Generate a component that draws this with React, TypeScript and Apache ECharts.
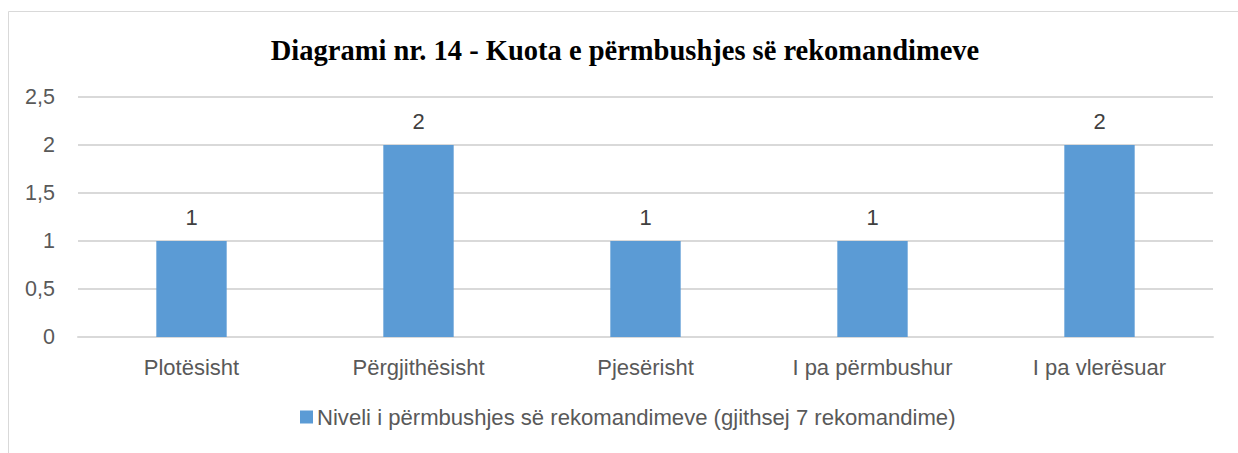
import React, { useEffect, useRef } from "react";
import * as echarts from "echarts";

const titleText = "Diagrami nr. 14 - Kuota e përmbushjes së rekomandimeve";
const seriesName = "Niveli i përmbushjes së rekomandimeve (gjithsej 7 rekomandime)";
const categories = ["Plotësisht", "Përgjithësisht", "Pjesërisht", "I pa përmbushur", "I pa vlerësuar"];
const values = [1, 2, 1, 1, 2];

export default function App() {
  const ref = useRef<HTMLDivElement>(null);
  useEffect(() => {
    if (!ref.current) return;
    const chart = echarts.init(ref.current, null, { renderer: "svg" });
    const labelFont = "'Liberation Sans', Arial, sans-serif";
    chart.setOption({
      animation: false,
      backgroundColor: "#ffffff",
      title: {
        text: titleText,
        left: 620,
        textAlign: "center",
        top: 31,
        textStyle: {
          fontFamily: "'Liberation Serif', 'DejaVu Serif', serif",
          fontWeight: "bold",
          fontSize: 28.5,
          color: "#000000",
        },
      },
      graphic: [
        {
          type: "polyline",
          shape: { points: [[8.5, 453], [8.5, 11.5], [1238, 11.5]] },
          style: { stroke: "#D9D9D9", lineWidth: 1, fill: null },
        },
      ],
      legend: {
        bottom: 20,
        left: 295,
        itemWidth: 13,
        itemHeight: 13,
        itemGap: 5,
        icon: "rect",
        textStyle: { fontFamily: labelFont, fontSize: 22.1, color: "#595959", padding: [0, 0, 0, -1] },
        data: [seriesName],
      },
      grid: { left: 78, right: 25, top: 97, bottom: 116, containLabel: false },
      xAxis: {
        type: "category",
        data: categories,
        axisLine: { lineStyle: { color: "#D9D9D9", width: 2 } },
        axisTick: { show: false },
        axisLabel: { fontFamily: labelFont, fontSize: 22, color: "#595959", margin: 19 },
      },
      yAxis: {
        type: "value",
        min: 0,
        max: 2.5,
        interval: 0.5,
        axisLine: { show: false },
        axisTick: { show: false },
        splitLine: { lineStyle: { color: "#D9D9D9", width: 2 } },
        axisLabel: {
          fontFamily: labelFont,
          fontSize: 21.5,
          color: "#595959",
          margin: 23,
          formatter: (v: number) => String(v).replace(".", ","),
        },
      },
      series: [
        {
          name: seriesName,
          type: "bar",
          data: values,
          barWidth: "31%",
          itemStyle: { color: "#5B9BD5" },
          label: {
            show: true,
            position: "top",
            distance: 13,
            fontFamily: labelFont,
            fontSize: 22,
            color: "#404040",
          },
        },
      ],
    });
    return () => chart.dispose();
  }, []);
  return (
    <div
      ref={ref}
      style={{ position: "fixed", left: 0, top: 0, width: 1238, height: 453 }}
    />
  );
}
